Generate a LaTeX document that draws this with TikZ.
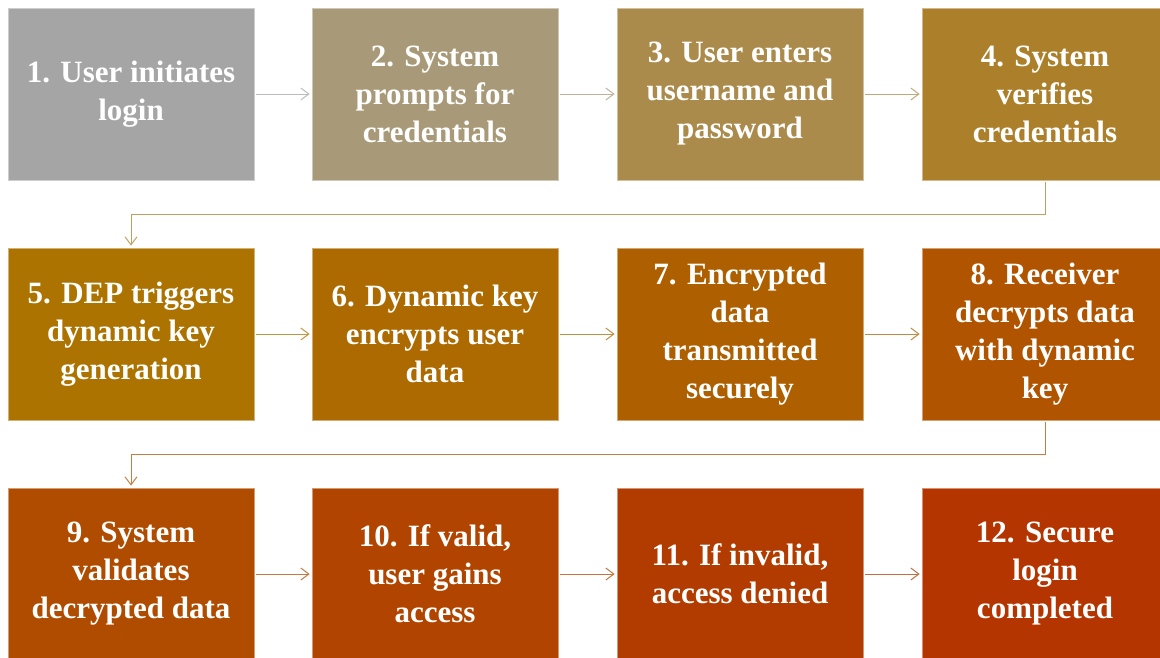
\documentclass[tikz,border=0pt]{standalone}
\usepackage{fontspec}
\setmainfont{Liberation Serif}
\usetikzlibrary{arrows.meta,positioning}
\definecolor{st1}{HTML}{A5A5A5}
\definecolor{st2}{HTML}{A89A78}
\definecolor{st3}{HTML}{AB8B4C}
\definecolor{st4}{HTML}{AC7F2A}
\definecolor{st5}{HTML}{AD7300}
\definecolor{st6}{HTML}{AD6A00}
\definecolor{st7}{HTML}{AE5F00}
\definecolor{st8}{HTML}{B05400}
\definecolor{st9}{HTML}{B04C00}
\definecolor{st10}{HTML}{B14500}
\definecolor{st11}{HTML}{B23C00}
\definecolor{st12}{HTML}{B43500}

\begin{document}
\begin{tikzpicture}[x=1pt, y=-1pt,
  stepbox/.style={draw=#1!55!white, fill=#1, line width=0.7pt, minimum width=246pt, minimum height=172pt,
    inner sep=0pt, text=white, align=center, font=\fontsize{31}{38}\selectfont\bfseries},
  link/.style={draw=#1!75!white, line width=1pt, shorten <=2pt, shorten >=2pt,
    -{Straight Barb[length=8pt,width=12pt]}}]
\clip (0,0) rectangle (1160,657);
% Step boxes, three rows of four
\foreach \i/\x/\y/\txt in {
  1/131/94/{1. User initiates\\login},
  2/435/94/{2. System\\prompts for\\credentials},
  3/740/94/{3. User enters\\username and\\password},
  4/1045/94/{4. System\\verifies\\credentials},
  5/131/334/{5. DEP triggers\\dynamic key\\generation},
  6/435/334/{6. Dynamic key\\encrypts user\\data},
  7/740/334/{7. Encrypted\\data\\transmitted\\securely},
  8/1045/334/{8. Receiver\\decrypts data\\with dynamic\\key},
  9/131/574/{9. System\\validates\\decrypted data},
  10/435/574/{10. If valid,\\user gains\\access},
  11/740/574/{11. If invalid,\\access denied},
  12/1045/574/{12. Secure\\login\\completed}} {
  \node[stepbox=st\i] (s\i) at (\x,\y) {\txt};
}
% Arrows along each row
\foreach \a/\b in {1/2, 2/3, 3/4, 5/6, 6/7, 7/8, 9/10, 10/11, 11/12} {
  \draw[link=st\a] (s\a) -- (s\b);
}
% Wrap to the next row
\draw[link=st4] (s4.south) -- ++(0,34) -| (s5.north);
\draw[link=st8] (s8.south) -- ++(0,34) -| (s9.north);
\end{tikzpicture}
\end{document}
